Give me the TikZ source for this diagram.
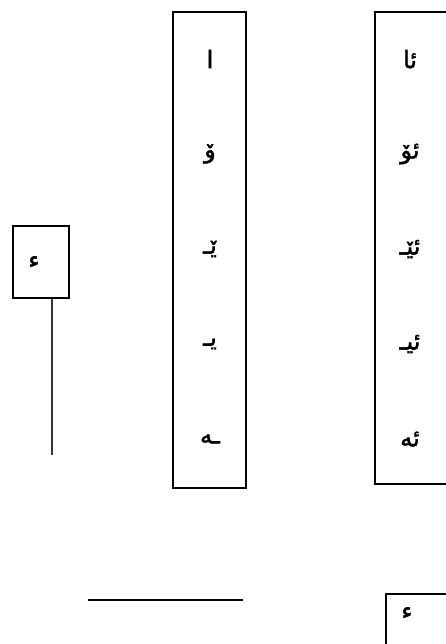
\documentclass[tikz,border=0pt]{standalone}
\usepackage{fontspec}
\newfontfamily\arabicfont[Script=Arabic,FakeBold=1.8]{DejaVu Sans}
\TeXXeTstate=1

\begin{document}
\begin{tikzpicture}[x=0.75pt,y=-0.75pt]

  \useasboundingbox (0,0) rectangle (446,644);

  % node styles
  \tikzstyle{Box}=[
  line width=1.5pt,
  inner sep=0pt,
  shape=rectangle,draw]

  \tikzstyle{Letter}=[font=\arabicfont\fontsize{18}{20}\selectfont,inner sep=0pt]

  % boxes
  \node[Box,minimum width=42pt,minimum height=54pt]        (L) at (41,262)    {};
  \node[Box,minimum width=54.75pt,minimum height=357pt]   (M) at (209.5,250) {};
  \node[Box,minimum width=56.25pt,minimum height=354pt]   (R) at (412.5,248) {};
  \node[Box,minimum width=51pt,minimum height=57pt]       (B) at (420,632)   {};

  % letters
  \node[Letter] (L1) at (34,262) {\beginR ء\endR};

  \node[Letter] (M1) at (210,59)  {\beginR ا\endR};
  \node[Letter] (M2) at (210,154) {\beginR ۆ\endR};
  \node[Letter] (M3) at (210,249) {\beginR ێـ\endR};
  \node[Letter] (M4) at (210,344) {\beginR یـ\endR};
  \node[Letter] (M5) at (210,439) {\beginR ـە\endR};

  \node[Letter] (R1) at (410,59)  {\beginR ئا\endR};
  \node[Letter] (R2) at (410,154) {\beginR ئۆ\endR};
  \node[Letter] (R3) at (410,249) {\beginR ئێـ\endR};
  \node[Letter] (R4) at (410,344) {\beginR ئیـ\endR};
  \node[Letter] (R5) at (410,439) {\beginR ئە\endR};

  \node[Letter] (B1) at (407,613) {\beginR ء\endR};

  % lines
  \coordinate (T) at (52,455);
  \draw[line width=1.2pt,black!80] (L.south -| T) -- (T);

  \coordinate (H1) at (88,600);
  \coordinate (H2) at (243,600);
  \draw[line width=0.8pt] (H1) -- (H2);

\end{tikzpicture}
\end{document}
